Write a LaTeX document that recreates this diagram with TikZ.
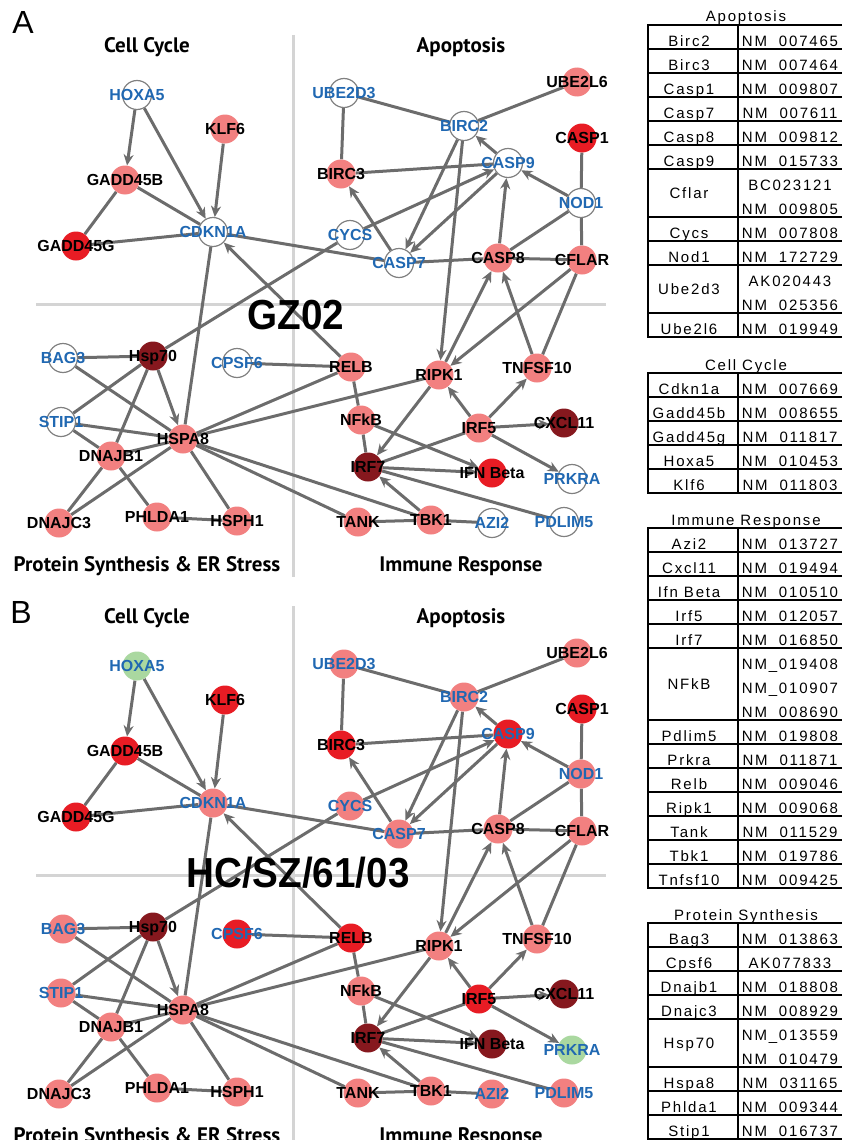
\documentclass[tikz,border=0pt]{standalone}
\usepackage{fontspec}
\setmainfont{Liberation Sans}
\newfontfamily\headfont{PT Sans}
\newfontfamily\tabfont[LetterSpace=12]{Liberation Sans}
\usetikzlibrary{arrows.meta}

\definecolor{linkgray}{RGB}{108,108,108}
\definecolor{gridgray}{RGB}{212,212,212}
\definecolor{genepink}{RGB}{242,128,128}
\definecolor{genered}{RGB}{232,28,36}
\definecolor{genedark}{RGB}{134,24,30}
\definecolor{genegreen}{RGB}{170,216,160}
\definecolor{geneblue}{RGB}{32,104,178}

\pgfdeclarelayer{background}
\pgfdeclarelayer{front}
\pgfsetlayers{background,main,front}

\tikzset{
  gene/.style={circle,minimum size=29pt,inner sep=0pt},
  hollow/.style={fill=white,draw=gray,line width=1.2pt},
  pinkfill/.style={fill=genepink},
  redfill/.style={fill=genered},
  darkfill/.style={fill=genedark},
  greenfill/.style={fill=genegreen},
  glabel/.style={font=\bfseries\fontsize{16}{17}\selectfont,text height=11.5pt,text depth=0pt,inner sep=0pt},
  blabel/.style={glabel,text=geneblue},
  link/.style={draw=linkgray,line width=3pt},
  act/.style={link,-{Stealth[length=11pt,width=10pt,inset=3.5pt]}},
  quadtitle/.style={font=\headfont\bfseries\fontsize{21}{24}\selectfont},
  strain/.style={font=\bfseries\fontsize{42}{46}\selectfont,xscale=0.92},
  tabtext/.style={font=\tabfont\fontsize{15}{17}\selectfont,anchor=base,inner sep=0pt},
  tabline/.style={draw=black,line width=1.8pt},
}

% gene node: name, position, fill in A, fill in B, label style, text
\newcommand{\gn}[6]{%
  \ifnum\pnl=1 \def\gfill{#3}\else\def\gfill{#4}\fi
  \node[gene,\gfill] (#1) at (#2) {};
  \begin{pgfonlayer}{front}
    \node[#5] (#1 text) at (#1) {#6};
  \end{pgfonlayer}}

% table row: top, number of lines, gene, accessions
\newcommand{\generow}[4]{%
  \draw[tabline] (648,#1) rectangle (845,{#1+24*#2});
  \draw[tabline] (738,#1) -- (738,{#1+24*#2});
  \ifnum#2=1 \node[tabtext] (#3 row) at (689,{#1+21.5}) {#3};
  \else \node[tabtext] (#3 row) at (689,{#1+12*#2+5}) {#3}; \fi
  \foreach \acc [count=\k] in {#4}
    \node[tabtext] (#3 acc \k) at (790,{#1+24*\k-2.5}) {\acc};}

\begin{document}
\begin{tikzpicture}[x=1pt,y=-1pt]
\useasboundingbox (0,0) rectangle (841,1140);

\node[font=\fontsize{32}{34}\selectfont] (panel A) at (23,22) {A};
\node[font=\fontsize{32}{34}\selectfont] (panel B) at (21,612) {B};
\node[strain] (strain A) at (296,315) {GZ02};
\node[strain] (strain B) at (298,873) {HC/SZ/61/03};

\foreach \pnl/\dy in {1/0,2/571}{
\begin{scope}[shift={(0,\dy)}]
  \begin{pgfonlayer}{background}
    \draw[gridgray,line width=3pt] (293,35) -- (293,577);
    \draw[gridgray,line width=3pt] (36,304) -- (606,304);
  \end{pgfonlayer}
  \node[quadtitle] (cc title) at (147,47) {Cell Cycle};
  \node[quadtitle] (ap title) at (461,47) {Apoptosis};
  \node[quadtitle] (ps title) at (147,566) {Protein Synthesis \& ER Stress};
  \node[quadtitle] (ir title) at (461,566) {Immune Response};

  % cell cycle
  \gn{HOXA5}{137,95}{hollow}{greenfill}{blabel}{HOXA5}
  \gn{KLF6}{225,129}{pinkfill}{redfill}{glabel}{KLF6}
  \gn{GADD45B}{125,180}{pinkfill}{redfill}{glabel}{GADD45B}
  \gn{GADD45G}{76,246}{redfill}{redfill}{glabel}{GADD45G}
  \gn{CDKN1A}{213,232}{hollow}{pinkfill}{blabel}{CDKN1A}
  % apoptosis
  \gn{UBE2D3}{344,93}{hollow}{pinkfill}{blabel}{UBE2D3}
  \gn{UBE2L6}{577,82}{pinkfill}{pinkfill}{glabel}{UBE2L6}
  \gn{BIRC2}{464,126}{hollow}{pinkfill}{blabel}{BIRC2}
  \gn{CASP1}{582,138}{redfill}{redfill}{glabel}{CASP1}
  \gn{BIRC3}{341,174}{pinkfill}{redfill}{glabel}{BIRC3}
  \gn{CASP9}{508,163}{hollow}{redfill}{blabel}{CASP9}
  \gn{NOD1}{581,203}{hollow}{pinkfill}{blabel}{NOD1}
  \gn{CYCS}{350,235}{hollow}{pinkfill}{blabel}{CYCS}
  \gn{CASP7}{399,263}{hollow}{pinkfill}{blabel}{CASP7}
  \gn{CASP8}{498,258}{pinkfill}{pinkfill}{glabel}{CASP8}
  \gn{CFLAR}{582,260}{pinkfill}{pinkfill}{glabel}{CFLAR}
  % protein synthesis
  \gn{BAG3}{63,358}{hollow}{pinkfill}{blabel}{BAG3}
  \gn{Hsp70}{153,356}{darkfill}{darkfill}{glabel}{Hsp70}
  \gn{CPSF6}{237,363}{hollow}{redfill}{blabel}{CPSF6}
  \gn{STIP1}{61,422}{hollow}{pinkfill}{blabel}{STIP1}
  \gn{HSPA8}{183,439}{pinkfill}{pinkfill}{glabel}{HSPA8}
  \gn{DNAJB1}{111,456}{pinkfill}{pinkfill}{glabel}{DNAJB1}
  \gn{DNAJC3}{59,523}{pinkfill}{pinkfill}{glabel}{DNAJC3}
  \gn{PHLDA1}{157,517}{pinkfill}{pinkfill}{glabel}{PHLDA1}
  \gn{HSPH1}{237,521}{pinkfill}{pinkfill}{glabel}{HSPH1}
  % immune response
  \gn{RELB}{351,367}{pinkfill}{redfill}{glabel}{RELB}
  \gn{RIPK1}{439,375}{pinkfill}{pinkfill}{glabel}{RIPK1}
  \gn{TNFSF10}{537,368}{pinkfill}{pinkfill}{glabel}{TNFSF10}
  \gn{NFkB}{361,420}{pinkfill}{pinkfill}{glabel}{NFkB}
  \gn{IRF5}{479,428}{pinkfill}{redfill}{glabel}{IRF5}
  \gn{CXCL11}{564,423}{darkfill}{darkfill}{glabel}{CXCL11}
  \gn{IRF7}{368,467}{darkfill}{darkfill}{glabel}{IRF7}
  \gn{IFNB}{492,473}{redfill}{darkfill}{glabel}{IFN Beta}
  \gn{PRKRA}{572,479}{hollow}{greenfill}{blabel}{PRKRA}
  \gn{TANK}{358,522}{pinkfill}{pinkfill}{glabel}{TANK}
  \gn{TBK1}{431,520}{pinkfill}{pinkfill}{glabel}{TBK1}
  \gn{AZI2}{492,523}{hollow}{pinkfill}{blabel}{AZI2}
  \gn{PDLIM5}{564,522}{hollow}{pinkfill}{blabel}{PDLIM5}

  \begin{pgfonlayer}{background}
  % cell cycle links
  \draw[act] (HOXA5) -- (GADD45B);
  \draw[act] (HOXA5) -- (CDKN1A);
  \draw[act] (KLF6) -- (CDKN1A);
  \draw[link] (GADD45B) -- (CDKN1A);
  \draw[link] (GADD45B) -- (GADD45G);
  \draw[link] (GADD45G) -- (CDKN1A);
  \draw[act] (RELB) -- (CDKN1A);
  \draw[link] (CDKN1A) -- (CASP7);
  \draw[link] (CDKN1A) -- (HSPA8);
  % apoptosis links
  \draw[link] (UBE2D3) -- (BIRC2);
  \draw[link] (UBE2D3) -- (BIRC3);
  \draw[link] (UBE2L6) -- (BIRC2);
  \draw[act] (CASP9) -- (BIRC2);
  \draw[link] (BIRC3) -- (CASP9);
  \draw[act] (NOD1) -- (CASP9);
  \draw[link] (CASP1) -- (NOD1);
  \draw[link] (NOD1) -- (CFLAR);
  \draw[link] (NOD1) -- (CASP8);
  \draw[act] (CASP8) -- (CASP9);
  \draw[act] (BIRC2) -- (CASP7);
  \draw[act] (CASP9) -- (CASP7);
  \draw[act] (CASP7) -- (BIRC3);
  \draw[link] (CASP7) -- (CASP8);
  \draw[link] (CASP8) -- (CFLAR);
  \draw[act] (CYCS) -- (CASP9);
  \draw[link] (Hsp70) -- (CYCS);
  \draw[act] (BIRC2) -- (RIPK1);
  \draw[act] (RIPK1) -- (CASP8);
  \draw[act] (TNFSF10) -- (CASP8);
  \draw[act] (CFLAR) -- (RIPK1);
  \draw[link] (CFLAR) -- (TNFSF10);
  % immune response links
  \draw[act] (IRF5) -- (RIPK1);
  \draw[act] (IRF5) -- (TNFSF10);
  \draw[act] (IRF5) -- (CXCL11);
  \draw[act] (IRF5) -- (PRKRA);
  \draw[link] (IRF5) -- (IRF7);
  \draw[act] (RIPK1) -- (IRF7);
  \draw[act] (NFkB) -- (IFNB);
  \draw[act] (IRF7) -- (IFNB);
  \draw[link] (NFkB) -- (IRF7);
  \draw[link] (RELB) -- (NFkB);
  \draw[link] (IRF7) -- (PDLIM5);
  \draw[act] (TBK1) -- (IRF7);
  \draw[link] (TANK) -- (TBK1);
  \draw[link] (TBK1) -- (AZI2);
  \draw[link] (HSPA8) -- (RIPK1);
  \draw[link] (HSPA8) -- (RELB);
  \draw[link] (CPSF6) -- (RELB);
  \draw[link] (HSPA8) -- (TANK);
  \draw[link] (HSPA8) -- (TBK1);
  % protein synthesis links
  \draw[link] (BAG3) -- (Hsp70);
  \draw[link] (BAG3) -- (HSPA8);
  \draw[act] (Hsp70) -- (HSPA8);
  \draw[link] (Hsp70) -- (STIP1);
  \draw[link] (Hsp70) -- (DNAJB1);
  \draw[link] (STIP1) -- (HSPA8);
  \draw[link] (STIP1) -- (DNAJB1);
  \draw[link] (DNAJB1) -- (HSPA8);
  \draw[link] (DNAJB1) -- (DNAJC3);
  \draw[link] (DNAJB1) -- (PHLDA1);
  \draw[link] (DNAJC3) -- (HSPA8);
  \draw[link] (PHLDA1) -- (HSPH1);
  \draw[link] (HSPA8) -- (HSPH1);
  \end{pgfonlayer}
\end{scope}
}

% accession tables
\node[tabtext] (apo head) at (746,22) {Apoptosis};
\generow{25}{1}{Birc2}{NM\_007465}
\generow{49}{1}{Birc3}{NM\_007464}
\generow{73}{1}{Casp1}{NM\_009807}
\generow{97}{1}{Casp7}{NM\_007611}
\generow{121}{1}{Casp8}{NM\_009812}
\generow{145}{1}{Casp9}{NM\_015733}
\generow{169}{2}{Cflar}{BC023121,NM\_009805}
\generow{217}{1}{Cycs}{NM\_007808}
\generow{241}{1}{Nod1}{NM\_172729}
\generow{265}{2}{Ube2d3}{AK020443,NM\_025356}
\generow{313}{1}{Ube2l6}{NM\_019949}

\node[tabtext] (cc head) at (746,370) {Cell Cycle};
\generow{373}{1}{Cdkn1a}{NM\_007669}
\generow{397}{1}{Gadd45b}{NM\_008655}
\generow{421}{1}{Gadd45g}{NM\_011817}
\generow{445}{1}{Hoxa5}{NM\_010453}
\generow{469}{1}{Klf6}{NM\_011803}

\node[tabtext] (ir head) at (746,525) {Immune Response};
\generow{528}{1}{Azi2}{NM\_013727}
\generow{552}{1}{Cxcl11}{NM\_019494}
\generow{576}{1}{Ifn Beta}{NM\_010510}
\generow{600}{1}{Irf5}{NM\_012057}
\generow{624}{1}{Irf7}{NM\_016850}
\generow{648}{3}{NFkB}{NM\_019408,NM\_010907,NM\_008690}
\generow{720}{1}{Pdlim5}{NM\_019808}
\generow{744}{1}{Prkra}{NM\_011871}
\generow{768}{1}{Relb}{NM\_009046}
\generow{792}{1}{Ripk1}{NM\_009068}
\generow{816}{1}{Tank}{NM\_011529}
\generow{840}{1}{Tbk1}{NM\_019786}
\generow{864}{1}{Tnfsf10}{NM\_009425}

\node[tabtext] (ps head) at (746,920) {Protein Synthesis};
\generow{923}{1}{Bag3}{NM\_013863}
\generow{947}{1}{Cpsf6}{AK077833}
\generow{971}{1}{Dnajb1}{NM\_018808}
\generow{995}{1}{Dnajc3}{NM\_008929}
\generow{1019}{2}{Hsp70}{NM\_013559,NM\_010479}
\generow{1067}{1}{Hspa8}{NM\_031165}
\generow{1091}{1}{Phlda1}{NM\_009344}
\generow{1115}{1}{Stip1}{NM\_016737}
\end{tikzpicture}
\end{document}
